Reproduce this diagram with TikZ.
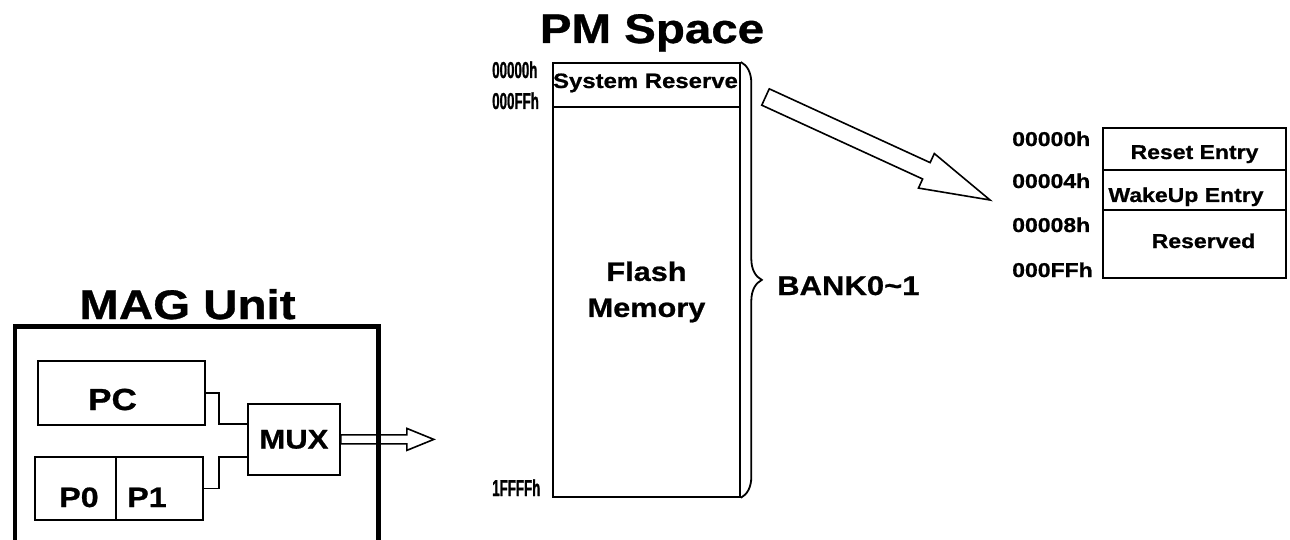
\documentclass[tikz,border=0pt]{standalone}
\usepackage{fontspec}
\setmainfont{Liberation Sans}[FakeStretch=1.15, FakeBold=0.8]
\newfontfamily\narrowfont{Liberation Sans}[FakeStretch=0.58, FakeBold=0.8]
\usetikzlibrary{calc, decorations.pathreplacing}

\begin{document}
\begin{tikzpicture}[x=1pt, y=-1pt, line join=miter,
      frame/.style={draw, line width=1.8pt, inner sep=0pt, anchor=north west},
      wire/.style={line width=1.8pt},
      hollow/.style={draw, fill=white, line width=1.6pt},
      ttl/.style={font=\bfseries\fontsize{41.3}{48}\selectfont, inner sep=0pt, anchor=base},
      lbl/.style={font=\bfseries\fontsize{20}{24}\selectfont, inner sep=0pt, anchor=base},
      big/.style={font=\bfseries\fontsize{28}{34}\selectfont, inner sep=0pt, anchor=base},
      addrl/.style={font=\narrowfont\bfseries\fontsize{23}{27}\selectfont, inner sep=0pt, anchor=base west},
      addrr/.style={lbl, anchor=base west}]
    \fill[white, use as bounding box] (0,0) rectangle (1290,540);
    \clip (0,0) rectangle (1290,540);

    % program memory
    \node[ttl] (pmttl) at (652,43) {PM Space};
    \node[frame, minimum width=187pt, minimum height=434pt] (pm) at (552,62) {};
    \draw[wire] (pm.west |- 0,107) -- (pm.east |- 0,107);
    \node[lbl, font=\bfseries\fontsize{20.8}{24}\selectfont] (sysres) at (645.5,88) {System Reserve};
    \node[font=\bfseries\fontsize{26.7}{36}\selectfont, align=center, inner sep=0pt] (flash) at (646.5,292) {Flash\\Memory};
    \draw[wire, decorate, decoration={brace, amplitude=21pt}] (pm.north east) -- (pm.south east);
    \node[font=\bfseries\fontsize{27}{32}\selectfont, inner sep=0pt, anchor=base west] (bank) at (777,295) {BANK0\textasciitilde1};
    \foreach \y/\t [count=\i] in {78/00000h, 109/000FFh, 496/1FFFFh}
      \node[addrl] (pa\i) at (492,\y) {\t};

    % vector table
    \node[frame, minimum width=183pt, minimum height=150pt] (vt) at (1102,127) {};
    \draw[wire] (vt.west |- 0,170) -- (vt.east |- 0,170);
    \draw[wire] (vt.west |- 0,210) -- (vt.east |- 0,210);
    \node[lbl] (rst) at (1194.5,159) {Reset Entry};
    \node[lbl] (wku) at (1186,202) {WakeUp Entry};
    \node[lbl] (rsv) at (1203.5,248) {Reserved};
    \foreach \y/\t [count=\i] in {146/00000h, 188/00004h, 232/00008h, 277/000FFh}
      \node[addrr] (va\i) at (1012,\y) {\t};

    % MAG unit
    \node[frame, minimum width=167pt, minimum height=64pt] (pc) at (37,360) {};
    \node[big, font=\bfseries\fontsize{30.5}{36}\selectfont] (pctxt) at (112.5,410) {PC};
    \node[frame, minimum width=168pt, minimum height=63pt] (pp) at (34,456) {};
    \draw[wire] (pp.north -| 116,0) -- (pp.south -| 116,0);
    \node[big] (p0) at (79,507) {P0};
    \node[big] (p1) at (147,507) {P1};
    \node[frame, minimum width=92pt, minimum height=71pt,
          font=\bfseries\fontsize{27}{32}\selectfont] (mux) at (247,403) {MUX};
    \coordinate (bus) at (219,0);
    \draw[wire] (pc.east) -- (pc.east -| bus) |- (mux.west |- 0,424);
    \draw[wire] (pp.east) -- (pp.east -| bus) |- (mux.west |- 0,457);

    % hollow arrows
    \coordinate (muxtip) at ([xshift=93pt]mux.east);
    \coordinate (ztail) at (765.5,97);
    \coordinate (ztip) at (990,200);
    \foreach \a/\b/\s/\h/\l in {mux.east/muxtip/4.5pt/11pt/27pt, ztail/ztip/9pt/19pt/70pt}
      \draw[hollow] ($(\a)!\s!90:(\b)$) -- ($(\b)!\l!(\a)!\s!90:(\b)$)
        -- ($(\b)!\l!(\a)!\h!90:(\b)$) -- (\b)
        -- ($(\b)!\l!(\a)!\h!-90:(\b)$) -- ($(\b)!\l!(\a)!\s!-90:(\b)$)
        -- ($(\a)!\s!-90:(\b)$) -- cycle;

    \node[frame, line width=4.5pt, minimum width=363.5pt, minimum height=240pt] (mag) at (12.5,324) {};
    \node[ttl] (magttl) at (187.5,319) {MAG Unit};
  \end{tikzpicture}
\end{document}
